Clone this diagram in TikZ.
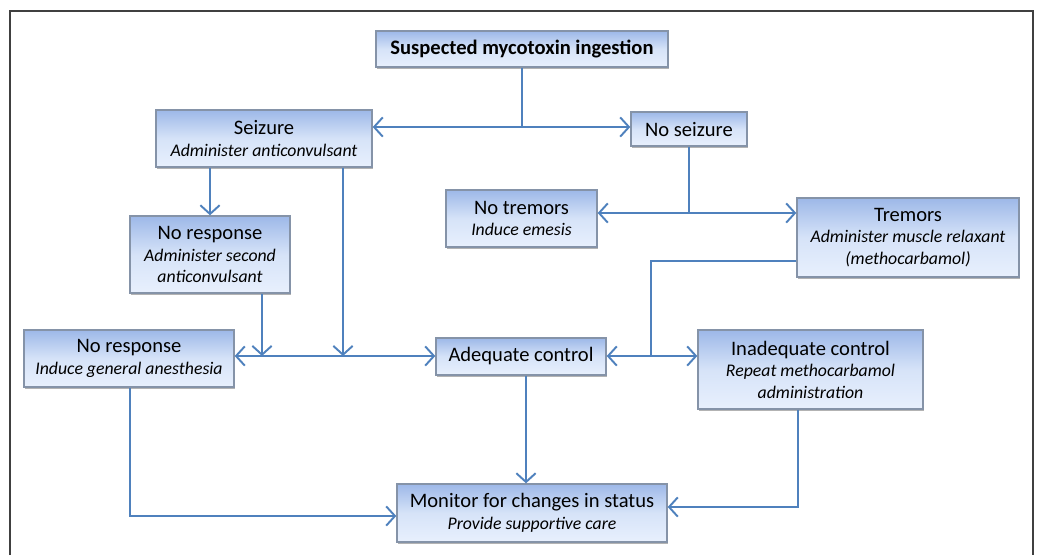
\documentclass[tikz,border=0pt]{standalone}
\usepackage{fontspec}
\setmainfont{Carlito}
\usetikzlibrary{arrows.meta,shadows}
\definecolor{BoxTop}{HTML}{9DB8E8}
\definecolor{BoxMid}{HTML}{D6E3F8}
\definecolor{BoxBot}{HTML}{E8F0FD}
\definecolor{BoxLine}{HTML}{8593A8}
\definecolor{LinkBlue}{HTML}{4F81BD}
\definecolor{FrameGray}{HTML}{404040}
\newcommand{\subline}[1]{{\fontsize{10.1}{12.2}\selectfont\itshape #1}}
\begin{document}
\begin{tikzpicture}[>={Straight Barb[length=5pt,width=11pt]}]
    \tikzstyle{BoxStyle}=[rectangle,
                          top color    = BoxTop,
                          bottom color = BoxBot,
                          middle color = BoxMid,
                          draw         = BoxLine,
                          line width   = 0.8pt,
                          drop shadow  = {shadow xshift=0.8pt,
                                          shadow yshift=-1pt,
                                          opacity=0.6},
                          align        = center,
                          inner sep    = 1pt,
                          font         = \fontsize{11.7}{12.2}\selectfont]
    \tikzstyle{LinkStyle}=[draw = LinkBlue,
                           line width = 1.1pt]
    \useasboundingbox (0,0) rectangle (20.74,-11.1);
    \draw[FrameGray, line width=1pt] (0.2,-11.1) -- (0.2,-0.22) -- (20.66,-0.22) -- (20.66,-11.1);
    \node[BoxStyle, minimum width=5.84cm, minimum height=0.72cm] (susp) at (10.44,-0.98)
        {\textbf{Suspected mycotoxin ingestion}};
    \node[BoxStyle, minimum width=4.32cm, minimum height=1.14cm] (seiz) at (5.28,-2.77)
        {Seizure\\\subline{Administer anticonvulsant}};
    \node[BoxStyle, minimum width=2.32cm, minimum height=0.68cm] (noseiz) at (13.78,-2.58)
        {No seizure};
    \node[BoxStyle, minimum width=3.02cm, minimum height=1.14cm] (notrem) at (10.43,-4.37)
        {No tremors\\\subline{Induce emesis}};
    \node[BoxStyle, minimum width=4.44cm, minimum height=1.58cm] (trem) at (18.16,-4.75)
        {Tremors\\\subline{Administer muscle relaxant}\\\subline{(methocarbamol)}};
    \node[BoxStyle, minimum width=3.2cm, minimum height=1.54cm] (noresp) at (4.2,-5.09)
        {No response\\\subline{Administer second}\\\subline{anticonvulsant}};
    \node[BoxStyle, minimum width=4.2cm, minimum height=1.14cm] (nrga) at (2.58,-7.17)
        {No response\\\subline{Induce general anesthesia}};
    \node[BoxStyle, minimum width=3.4cm, minimum height=0.74cm] (adeq) at (10.42,-7.13)
        {Adequate control};
    \node[BoxStyle, minimum width=4.5cm, minimum height=1.58cm] (inadeq) at (16.21,-7.39)
        {Inadequate control\\\subline{Repeat methocarbamol}\\\subline{administration}};
    \node[BoxStyle, minimum width=5.4cm, minimum height=1.16cm] (monitor) at (10.64,-10.26)
        {Monitor for changes in status\\\subline{Provide supportive care}};
    \coordinate (j1) at (10.44,-2.54);
    \coordinate (j2) at (5.24,-7.12);
    \coordinate (j3) at (6.86,-7.12);
    \coordinate (j4) at (13.78,-4.26);
    \coordinate (j5) at (13.02,-5.22);
    \coordinate (j6) at (13.02,-7.12);
    \coordinate (j7) at (10.52,-7.12);
    \coordinate (j8) at (2.6,-10.32);
    \coordinate (j9) at (15.96,-10.14);
    \draw[LinkStyle] (susp) -- (j1);
    \draw[LinkStyle, ->] (j1) -- (seiz.east |- j1);
    \draw[LinkStyle, ->] (j1) -- (noseiz.west |- j1);
    \draw[LinkStyle, ->] (seiz.south -| noresp) -- (noresp.north);
    \draw[LinkStyle, ->] (seiz.south -| j3) -- (j3);
    \draw[LinkStyle, ->] (noresp.south -| j2) -- (j2);
    \draw[LinkStyle, <->] (nrga.east |- j2) -- (adeq.west |- j2);
    \draw[LinkStyle] (noseiz) -- (j4);
    \draw[LinkStyle, ->] (j4) -- (notrem.east |- j4);
    \draw[LinkStyle, ->] (j4) -- (trem.west |- j4);
    \draw[LinkStyle] (trem.west |- j5) -- (j5) -- (j6);
    \draw[LinkStyle, ->] (j6) -- (adeq.east |- j6);
    \draw[LinkStyle, ->] (j6) -- (inadeq.west |- j6);
    \draw[LinkStyle, ->] (adeq.south -| j7) -- (monitor.north -| j7);
    \draw[LinkStyle, ->] (nrga.south -| j8) -- (j8) -- (monitor.west |- j8);
    \draw[LinkStyle, ->] (inadeq.south -| j9) -- (j9) -- (monitor.east |- j9);
\end{tikzpicture}
\end{document}
